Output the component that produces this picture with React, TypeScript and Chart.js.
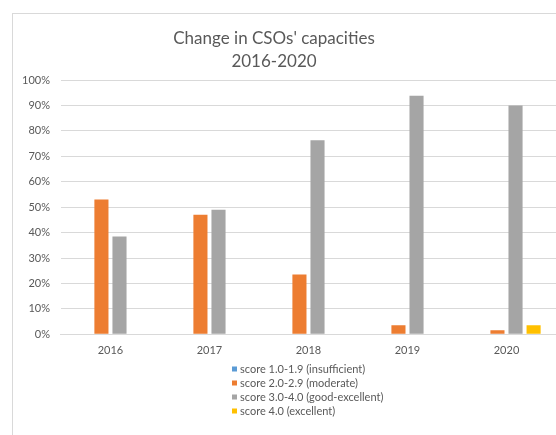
import React, { useEffect, useRef } from "react";
import { Chart, registerables } from "chart.js";

Chart.register(...registerables);

const categories = ["2016", "2017", "2018", "2019", "2020"];
const insufficient = [0, 0, 0, 0, 0];
const moderate = [53, 47, 23.5, 3.6, 1.6];
const goodExcellent = [38.5, 49, 76.3, 93.8, 90];
const excellent = [0, 0, 0, 0, 3.6];
const seriesLabels = [
  "score 1.0-1.9 (insufficient)",
  "score 2.0-2.9 (moderate)",
  "score 3.0-4.0 (good-excellent)",
  "score 4.0 (excellent)",
];
const titleLines = ["Change in CSOs' capacities", "2016-2020"];

const FONT = "Lato, 'Open Sans', sans-serif";
const TEXT = "#595959";
const GRID = "#d9d9d9";

const decorPlugin = {
  id: "decor",
  afterDraw(chart: any) {
    const ctx = chart.ctx;
    ctx.save();
    // title
    ctx.font = `17px ${FONT}`;
    ctx.fillStyle = TEXT;
    ctx.textAlign = "center";
    ctx.textBaseline = "middle";
    titleLines.forEach((t, i) => ctx.fillText(t, 274, 39 + i * 23));
    // legend
    ctx.font = `11px ${FONT}`;
    ctx.textAlign = "left";
    const x = 232;
    const top = 369;
    const step = 14;
    chart.data.datasets.forEach((ds: any, i: number) => {
      const y = top + i * step;
      ctx.fillStyle = ds.backgroundColor;
      ctx.fillRect(x, y - 2.5, 5, 5);
      ctx.fillStyle = TEXT;
      ctx.fillText(ds.label, x + 8, y);
    });
    ctx.restore();
  },
};

export default function App() {
  const ref = useRef<HTMLCanvasElement>(null);
  useEffect(() => {
    if (!ref.current) return;
    const chart = new Chart(ref.current, {
      type: "bar",
      data: {
        labels: categories,
        datasets: [
          { label: seriesLabels[0], data: insufficient, backgroundColor: "#5B9BD5" },
          { label: seriesLabels[1], data: moderate, backgroundColor: "#ED7D31" },
          { label: seriesLabels[2], data: goodExcellent, backgroundColor: "#A5A5A5" },
          { label: seriesLabels[3], data: excellent, backgroundColor: "#FFC000" },
        ],
      },
      options: {
        responsive: false,
        animation: false,
        layout: { padding: { left: 11, right: 0, top: 80, bottom: 67.5 } },
        datasets: {
          bar: { categoryPercentage: 0.73, barPercentage: 0.78 },
        },
        plugins: {
          legend: { display: false },
          tooltip: { enabled: false },
          title: { display: false },
        },
        scales: {
          x: {
            grid: { display: false, drawTicks: false },
            border: { display: true, color: GRID, width: 1 },
            ticks: { color: TEXT, font: { family: FONT, size: 11 }, padding: 10 },
          },
          y: {
            min: 0,
            max: 100,
            grid: { color: GRID, drawTicks: false },
            border: { display: false },
            ticks: {
              stepSize: 10,
              color: TEXT,
              font: { family: FONT, size: 11 },
              padding: 11,
              callback: (v: any) => v + "%",
            },
          },
        },
      },
      plugins: [decorPlugin],
    });
    return () => chart.destroy();
  }, []);

  return (
    <div
      style={{
        position: "absolute",
        left: 0,
        top: 0,
        width: 556,
        height: 435,
        overflow: "hidden",
        background: "#fff",
      }}
    >
      <div
        style={{
          position: "absolute",
          left: 12,
          top: 13,
          width: 600,
          height: 500,
          border: "1px solid #d9d9d9",
        }}
      />
      <canvas
        ref={ref}
        width={556}
        height={435}
        style={{ position: "absolute", left: 0, top: 0 }}
      />
    </div>
  );
}
